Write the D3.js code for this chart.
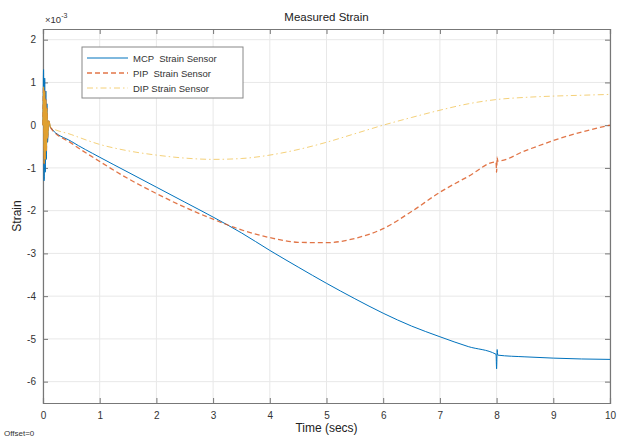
<!DOCTYPE html>
<html lang="en">
<head>
<meta charset="UTF-8">
<title>Measured Strain</title>
<style>
  body { margin: 0; background: #fff; }
  text { font-family: "Liberation Sans", Arial, sans-serif; white-space: pre; }
</style>
</head>
<body>
<svg width="619" height="439" id="svg"></svg>
<script src="https://d3js.org/d3.v7.min.js"></script>
<script>
// values in units of 1e-3
const mcpT = [0, 0.01, 0.02, 0.03, 0.04, 0.05, 0.06, 0.07, 0.08, 0.1, 0.13, 0.5, 1, 1.5, 2, 2.5, 3, 3.5, 4, 4.5, 5, 5.5, 6, 6.5, 7, 7.5, 7.99, 8, 8.01, 8.02, 8.5, 9, 9.5, 10]
const mcpV = [0, 1.3, -1.3, 1.1, -1.1, 0.8, -0.8, 0.5, -0.4, 0.1, -0.05, -0.38, -0.75, -1.1, -1.45, -1.8, -2.15, -2.52, -2.93, -3.32, -3.7, -4.06, -4.4, -4.7, -4.95, -5.18, -5.36, -5.7, -5.25, -5.38, -5.42, -5.45, -5.47, -5.48]

const pipT = [0, 0.01, 0.02, 0.03, 0.04, 0.05, 0.06, 0.07, 0.08, 0.1, 0.13, 0.5, 1, 1.5, 2, 2.5, 3, 3.5, 4, 4.5, 5, 5.5, 6, 6.5, 7, 7.5, 7.99, 8, 8.01, 8.02, 8.5, 9, 9.5, 10]
const pipV = [0, 0.9, -0.9, 0.8, -0.8, 0.6, -0.6, 0.4, -0.3, 0.1, -0.05, -0.42, -0.85, -1.25, -1.6, -1.92, -2.2, -2.45, -2.63, -2.74, -2.75, -2.65, -2.42, -2.02, -1.57, -1.2, -0.86, -1.1, -0.75, -0.84, -0.6, -0.36, -0.16, 0.0]

const dipT = [0, 0.01, 0.02, 0.03, 0.04, 0.05, 0.06, 0.08, 0.1, 0.5, 1, 1.5, 2, 2.5, 3, 3.5, 4, 4.5, 5, 5.5, 6, 6.5, 7, 7.5, 8, 8.5, 9, 9.5, 10]
const dipV = [0, 0.6, -0.6, 0.5, -0.5, 0.3, -0.3, 0.1, -0.02, -0.22, -0.45, -0.6, -0.7, -0.77, -0.8, -0.78, -0.7, -0.57, -0.4, -0.2, 0.0, 0.18, 0.35, 0.5, 0.6, 0.65, 0.68, 0.7, 0.72]

const xTicks = [0, 1, 2, 3, 4, 5, 6, 7, 8, 9, 10]
const yTicks = [-6, -5, -4, -3, -2, -1, 0, 1, 2]
const seriesNames = ["MCP  Strain Sensor", "PIP  Strain Sensor", "DIP Strain Sensor"]

const svg = d3.select("svg#svg")
const margin = { top: 29, right: 9, bottom: 36, left: 43 }
const width = +svg.attr("width") - margin.left - margin.right
const height = +svg.attr("height") - margin.top - margin.bottom

const xScale = d3.scaleLinear().domain([0, 10]).range([0, width])
const yScale = d3.scaleLinear().domain([-6.5, 2.25]).range([height, 0])

const g = svg.append("g").attr("transform", `translate(${margin.left},${margin.top})`)

// grid
g.append("g").selectAll("line").data(xTicks).join("line")
  .attr("x1", d => xScale(d)).attr("x2", d => xScale(d))
  .attr("y1", 0).attr("y2", height)
  .attr("stroke", "#e8e8e8").attr("stroke-width", 1)
g.append("g").selectAll("line").data(yTicks).join("line")
  .attr("x1", 0).attr("x2", width)
  .attr("y1", d => yScale(d)).attr("y2", d => yScale(d))
  .attr("stroke", "#e8e8e8").attr("stroke-width", 1)

// axes, ticks pointing inward
const fmt = d => String(d)
const xAxis = d3.axisBottom(xScale).tickValues(xTicks).tickSize(-5).tickPadding(9).tickFormat(fmt)
const yAxis = d3.axisLeft(yScale).tickValues(yTicks).tickSize(-5).tickPadding(7).tickFormat(fmt)
const xTop = d3.axisTop(xScale).tickValues(xTicks).tickSize(-5).tickFormat("")
const yRight = d3.axisRight(yScale).tickValues(yTicks).tickSize(-5).tickFormat("")

function styleAxis(sel) {
  sel.selectAll("path, line").attr("stroke", "#777")
  sel.selectAll("text").attr("fill", "#333").style("font-size", "10px")
}
g.append("g").attr("transform", `translate(0,${height})`).call(xAxis).call(styleAxis)
g.append("g").call(yAxis).call(styleAxis)
g.append("g").call(xTop).call(styleAxis)
g.append("g").attr("transform", `translate(${width},0)`).call(yRight).call(styleAxis)
g.selectAll(".domain").attr("stroke", "#777").attr("stroke-width", 1.2)

// lines
const line = d3.line().x(d => xScale(d[0])).y(d => yScale(d[1])).curve(d3.curveMonotoneX)
const zip = (t, v) => t.map((d, i) => [d, v[i]])

g.append("path").datum(zip(dipT, dipV)).attr("d", line)
  .attr("fill", "none").attr("stroke", "#EDB120").attr("stroke-opacity", 0.6)
  .attr("stroke-width", 1).attr("stroke-dasharray", "6,3,1.5,3")
g.append("path").datum(zip(mcpT, mcpV)).attr("d", line)
  .attr("fill", "none").attr("stroke", "#0072BD").attr("stroke-width", 1)
g.append("path").datum(zip(pipT, pipV)).attr("d", line)
  .attr("fill", "none").attr("stroke", "#D95319").attr("stroke-opacity", 0.8)
  .attr("stroke-width", 1.3).attr("stroke-dasharray", "5,3")
// orange/yellow fill of the start oscillation
g.append("path").datum(zip(pipT.slice(0, 11), pipV.slice(0, 11))).attr("d", line)
  .attr("fill", "none").attr("stroke", "#E0A030").attr("stroke-width", 1.3)

// legend
const legend = svg.append("g").attr("transform", "translate(82,47)")
legend.append("rect").attr("width", 161).attr("height", 51)
  .attr("fill", "#fff").attr("stroke", "#888").attr("stroke-width", 1)
const legStyles = [
  { c: "#0072BD", w: 1, dash: null, o: 1 },
  { c: "#D95319", w: 1.3, dash: "5,3", o: 0.8 },
  { c: "#EDB120", w: 1, dash: "6,3,1.5,3", o: 0.6 }
]
seriesNames.forEach((name, i) => {
  const yy = 11 + i * 15
  legend.append("line").attr("x1", 5).attr("x2", 46).attr("y1", yy).attr("y2", yy)
    .attr("stroke", legStyles[i].c).attr("stroke-width", legStyles[i].w)
    .attr("stroke-opacity", legStyles[i].o)
    .attr("stroke-dasharray", legStyles[i].dash)
  legend.append("text").attr("x", 51).attr("y", yy + 3.5).text(name)
    .style("font-size", "9.5px").attr("fill", "#333")
})

// titles
svg.append("text").attr("x", margin.left + width / 2).attr("y", 21).attr("text-anchor", "middle")
  .style("font-size", "11.5px").attr("fill", "#222").text("Measured Strain")
svg.append("text").attr("x", margin.left + width / 2).attr("y", 432).attr("text-anchor", "middle")
  .style("font-size", "12px").attr("fill", "#222").text("Time (secs)")
svg.append("text").attr("transform", `translate(21,${margin.top + height / 2}) rotate(-90)`)
  .attr("text-anchor", "middle").style("font-size", "12px").attr("fill", "#222").text("Strain")
const exp = svg.append("text").attr("x", 45).attr("y", 23).style("font-size", "9.5px").attr("fill", "#333")
exp.append("tspan").text("\u00d710")
exp.append("tspan").attr("dy", -5).style("font-size", "7px").text("-3")
svg.append("text").attr("x", 4).attr("y", 436).style("font-size", "8px").attr("fill", "#333").text("Offset=0")
</script>
</body>
</html>
